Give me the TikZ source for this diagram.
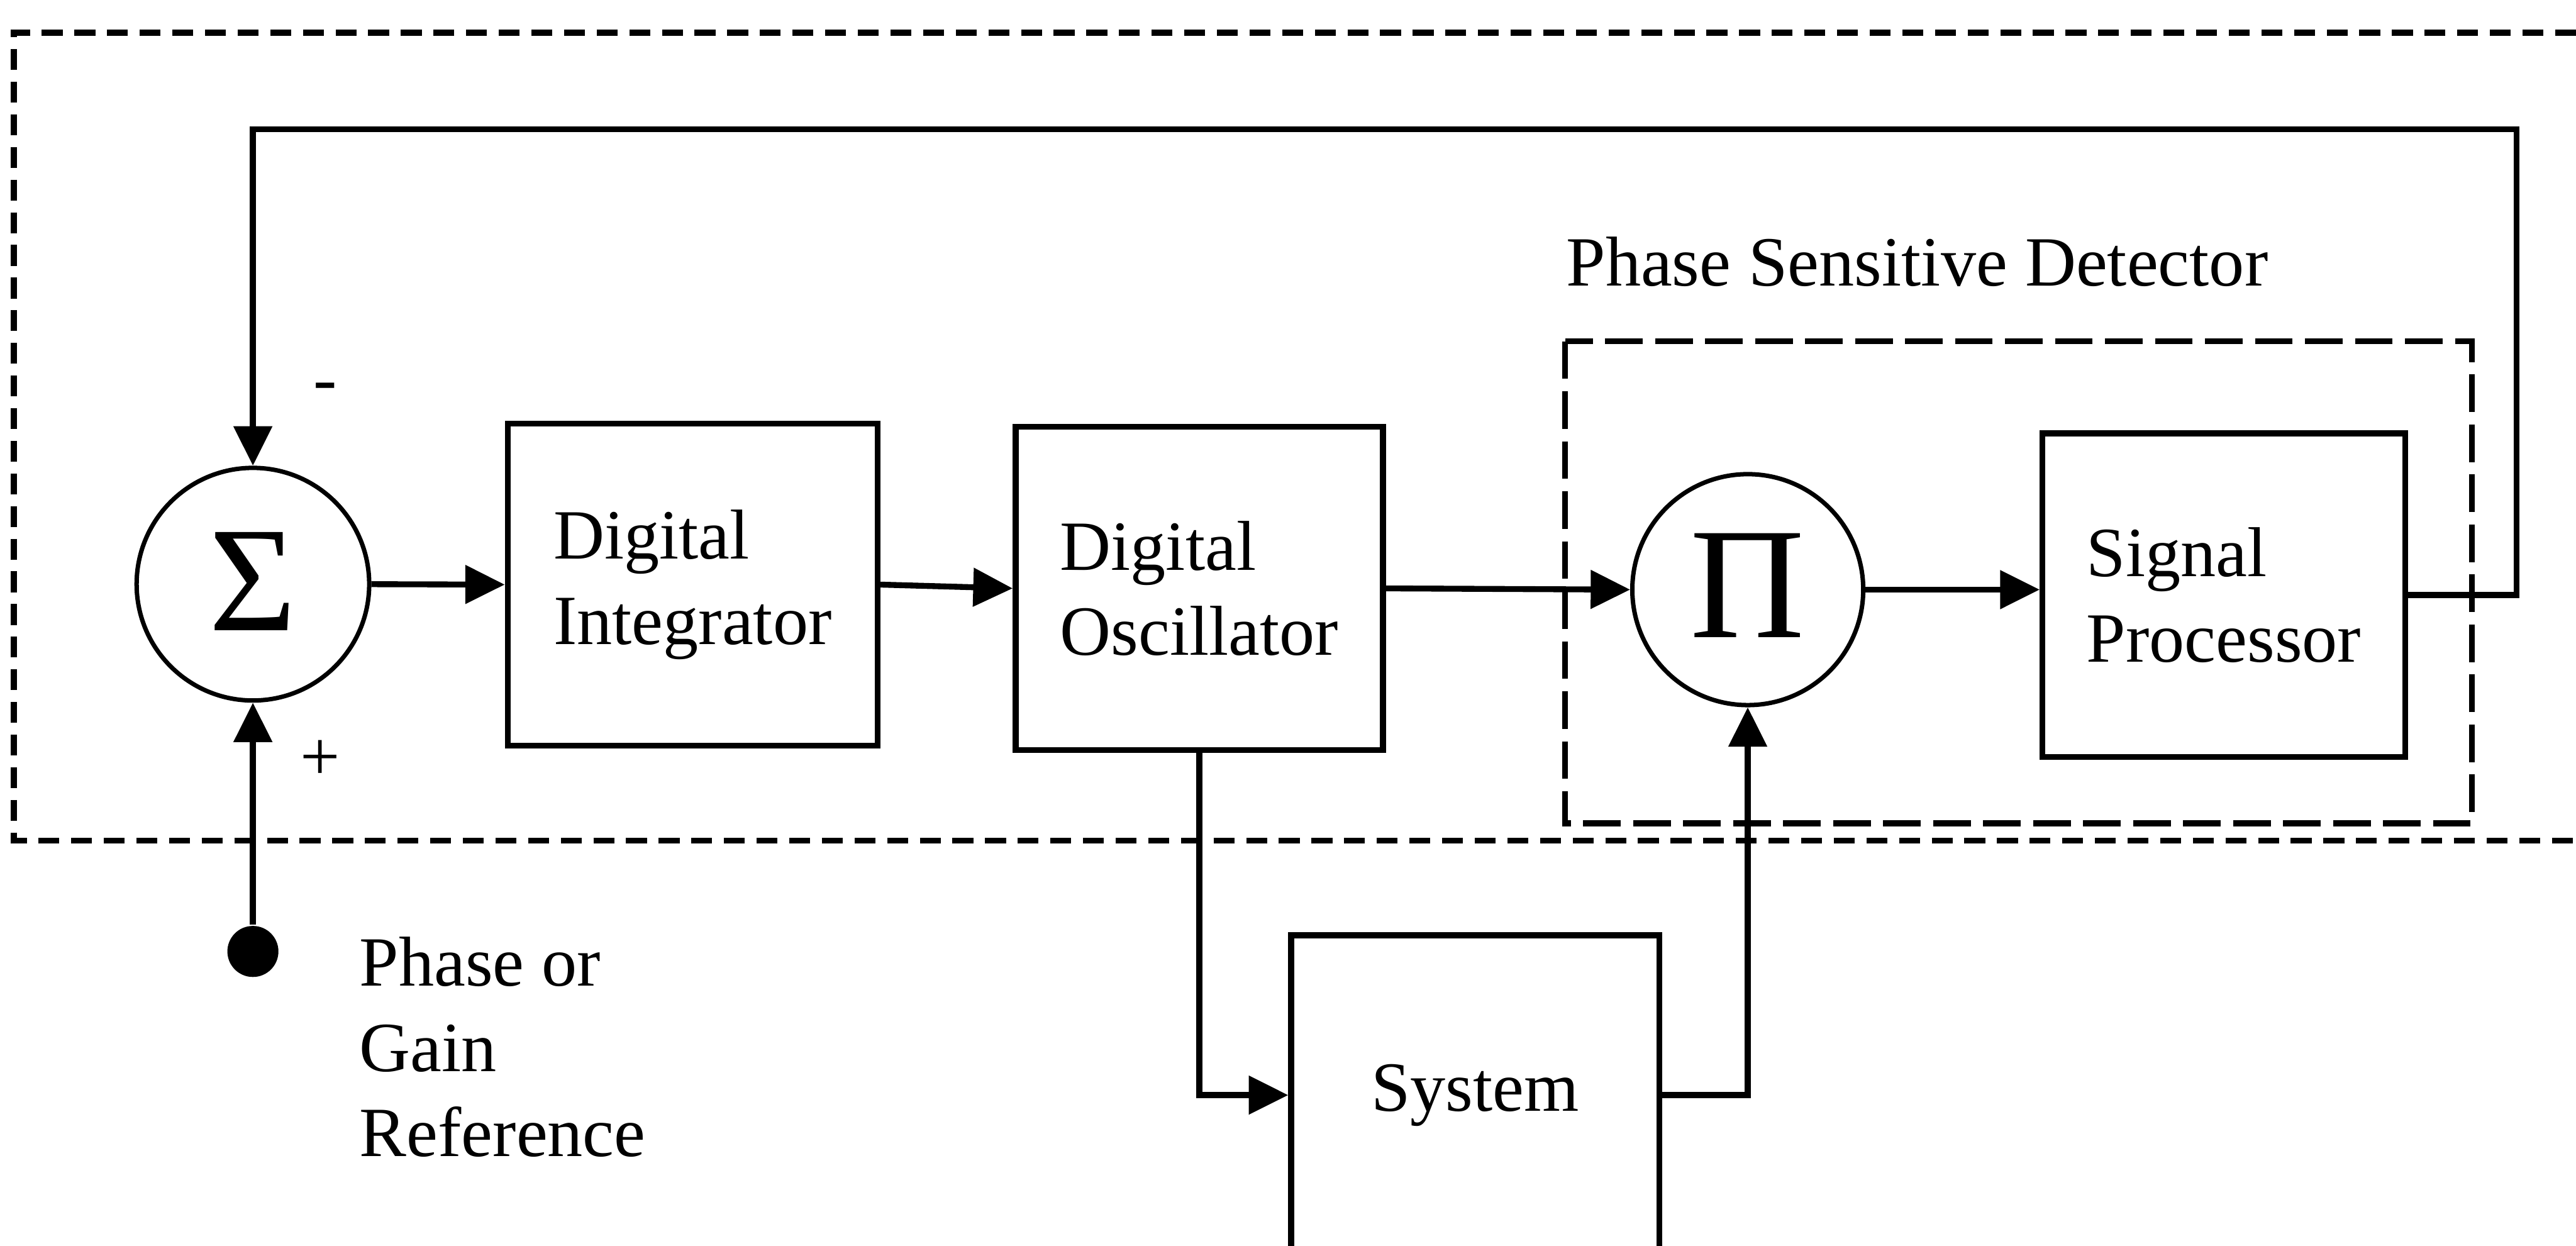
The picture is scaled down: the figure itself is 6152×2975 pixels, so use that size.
\documentclass[tikz,border=0pt]{standalone}
\usepackage{fontspec}
\setmainfont{Liberation Serif}
\usetikzlibrary{arrows.meta,calc}
\begin{document}
\begin{tikzpicture}[x=0.0025cm,y=-0.0025cm,
  lbl/.style={font=\fontsize{12pt}{14.5pt}\selectfont, inner sep=0pt},
  blk/.style={draw, line width=1pt, align=left, font=\fontsize{12pt}{14.5pt}\selectfont, inner sep=0pt},
  junc/.style={draw, circle, line width=0.75pt, inner sep=0pt, minimum size=1.39cm},
  conn/.style={line width=1pt, -{Triangle[length=6.7pt,width=6.4pt]}},
  outerdash/.style={line width=1pt, dash pattern=on 3.55pt off 2pt},
  innerdash/.style={line width=1pt, dash pattern=on 6.4pt off 2.1pt},
]
\path[use as bounding box, clip] (0,0) rectangle (6152,2975);
\fill[white] (0,0) rectangle (6152,2975);

% frames
\draw[outerdash] (6152,78) -- (33,78) -- (33,2007) -- (6152,2007);
\draw[innerdash] (3738,815) rectangle (5903,1966);

% nodes
\node[junc, font=\fontsize{25.5pt}{25.5pt}\selectfont] (sig) at (604,1395) {\raisebox{1pt}{Σ}};
\node[blk, minimum width=2.21cm, minimum height=1.9225cm] (int) at (1654,1396) {Digital\\Integrator};
\node[blk, minimum width=2.195cm, minimum height=1.9325cm] (osc) at (2864,1405) {Digital\\Oscillator};
\node[junc, minimum size=1.38cm, font=\fontsize{27pt}{27pt}\selectfont] (pi) at (4174,1408) {\raisebox{1.5pt}{Π}};
\node[blk, minimum width=2.1675cm, minimum height=1.9325cm] (sp) at (5311,1421) {Signal\\Processor};
\node[blk, minimum width=2.2cm, minimum height=1.91cm] (sys) at (3523,2615) {System};
\node[circle, fill, inner sep=0pt, minimum size=0.305cm] (dot) at (604,2272) {};
\node[lbl, anchor=north west, align=left] (ref) at (856,2235) {Phase or\\Gain\\Reference};
\node[lbl, anchor=base west] (psd) at (3738,683) {Phase Sensitive Detector};
\node[lbl] (minus) at (777,937) {-};
\node[lbl] (plus) at (765,1816) {+};
\coordinate (fbr) at (6010,309);

% connectors
\draw[conn] (sig.east) -- (int.west);
\draw[conn] (int.east) -- (osc.west);
\draw[conn] (osc.east) -- (pi.west);
\draw[conn] (pi.east) -- (pi.east -| sp.west);
\draw[conn] (sp.east) -| (fbr) -| (sig.north);
\draw[conn] (osc.south) |- (sys.west);
\draw[conn] (sys.east) -| (pi.south);
\draw[conn] (dot) -- (sig.south);
\end{tikzpicture}
\end{document}
